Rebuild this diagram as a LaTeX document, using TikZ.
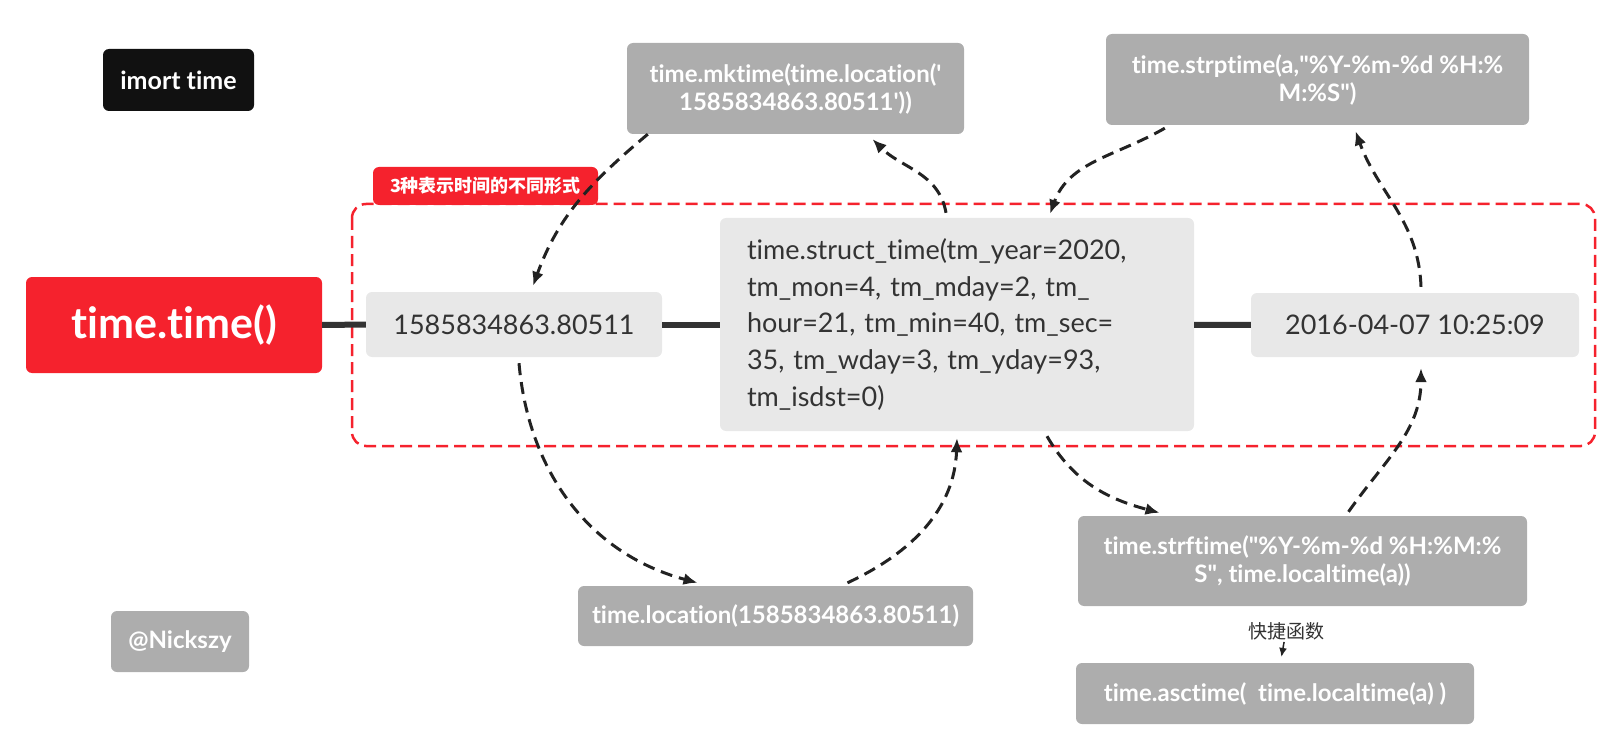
\documentclass[tikz,border=0pt]{standalone}
\usepackage{fontspec}
\setmainfont{Lato}[Ligatures = {TeX, NoCommon}]
\newfontfamily\cjkfont{Noto Sans CJK SC}
\usetikzlibrary{arrows.meta}
\definecolor{tred}{RGB}{245,34,45}
\definecolor{lightfill}{RGB}{232,232,232}
\definecolor{greyfill}{RGB}{173,173,173}
\definecolor{inkdark}{RGB}{51,51,51}
\definecolor{blackfill}{RGB}{17,17,17}
\definecolor{arrowink}{RGB}{34,34,34}
\tikzset{box/.style = {rounded corners = 6pt, inner sep = 0, align = center}}
\tikzset{redbox/.style = {box, fill = tred, text = white,
                          font = \bfseries\fontsize{43}{50}\selectfont}}
\tikzset{formbox/.style = {box, fill = lightfill, text = inkdark,
                           font = \fontsize{27}{36.7}\selectfont}}
\tikzset{funcbox/.style = {box, fill = greyfill, text = white,
                           font = \bfseries\fontsize{24}{28}\selectfont}}
\tikzset{inkbox/.style = {box, fill = blackfill, text = white,
                          font = \bfseries\fontsize{25}{28}\selectfont}}
\tikzset{bar/.style = {draw = inkdark, line width = 6pt}}
\tikzset{conv/.style = {draw = arrowink, line width = 3pt, dash pattern = on 12pt off 7pt,
                        -{Latex[length = 14pt, width = 12pt]}}}
\newcommand{\dq}{\textquotedbl}

\begin{document}
\begin{tikzpicture}[x = 1pt, y = 1pt]
      \useasboundingbox (0, 0) rectangle (1617, -738);

      % group frame and its label
      \node [box, fill = tred, text = white, minimum width = 225, minimum height = 38,
             font = \cjkfont\bfseries\fontsize{18}{20}\selectfont] (grouptag) at (485.5, -186) {3种表示时间的不同形式};
      \draw [tred, line width = 2.5pt, dash pattern = on 12pt off 6pt, rounded corners = 14pt]
            (352, -204) rectangle (1595, -446);

      \node [inkbox, minimum width = 151, minimum height = 62] (importtime) at (178.5, -80) {imort time};
      \node [funcbox, minimum width = 138, minimum height = 61] (author) at (180, -641.5) {@Nickszy};

      % the three forms
      \node [redbox, minimum width = 296, minimum height = 96] (ttime) at (174, -325) {time.time()};
      \node [formbox, minimum width = 296, minimum height = 65] (stamp) at (514, -324.5) {1585834863.80511};
      \node [formbox, minimum height = 213, text width = 420, inner xsep = 27, align = left] (struct) at (957, -324.5)
            {time.struct\_time(tm\_year=2020,\\ tm\_mon=4, tm\_mday=2, tm\_\\ hour=21, tm\_min=40, tm\_sec=\\ 35, tm\_wday=3, tm\_yday=93,\\ tm\_isdst=0)};
      \node [formbox, minimum width = 328, minimum height = 64] (datestr) at (1415, -325) {2016-04-07 10:25:09};

      \draw [bar] (ttime) -- (stamp);
      \draw [bar] (stamp) -- (struct);
      \draw [bar] (struct) -- (datestr);

      % conversion functions
      \node [funcbox, minimum width = 337, minimum height = 91] (mktime) at (795.5, -88.5)
            {time.mktime(time.location(\textquotesingle\\ 1585834863.80511\textquotesingle))};
      \node [funcbox, minimum width = 423, minimum height = 91] (strptime) at (1317.5, -79.5)
            {time.strptime(a,\dq\%Y-\%m-\%d \%H:\%\\ M:\%S\dq)};
      \node [funcbox, minimum width = 395, minimum height = 60] (location) at (775.5, -616)
            {time.location(1585834863.80511)};
      \node [funcbox, minimum width = 449, minimum height = 90] (strftime) at (1302.5, -561)
            {time.strftime(\dq\%Y-\%m-\%d \%H:\%M:\%\\ S\dq, time.localtime(a))};
      \node [funcbox, minimum width = 398, minimum height = 61] (asctime) at (1275, -693.5)
            {time.asctime(\ \ time.localtime(a) )};
      \node [text = inkdark, inner sep = 0, font = \cjkfont\fontsize{19}{21}\selectfont] (shortcut) at (1286, -631) {快捷函数};

      \draw [conv] ([xshift = 21pt]mktime.south west) to [out = 220, in = 70] ([xshift = 19pt, yshift = 6pt]stamp.north);
      \draw [conv] ([xshift = -11pt, yshift = 5pt]struct.north) to [out = 100, in = -45] ([xshift = 77pt, yshift = -5pt]mktime.south);
      \draw [conv] ([xshift = 59pt, yshift = -3pt]strptime.south west) to [out = 210, in = 70] ([xshift = 93pt, yshift = 4pt]struct.north);
      \draw [conv] ([xshift = 6pt, yshift = 6pt]datestr.north) to [out = 92, in = -70] ([xshift = 38pt, yshift = -6pt]strptime.south);
      \draw [conv] ([xshift = 5pt, yshift = -6pt]stamp.south) to [out = -85, in = 165] ([xshift = -78pt, yshift = 3pt]location.north);
      \draw [conv] ([xshift = 72pt, yshift = 3pt]location.north) to [out = 25, in = -92] ([yshift = -7pt]struct.south);
      \draw [conv] ([xshift = 90pt, yshift = -5pt]struct.south) to [out = -60, in = 165] ([xshift = -143pt, yshift = 3pt]strftime.north);
      \draw [conv] ([xshift = 46pt, yshift = 4pt]strftime.north) to [out = 55, in = -90] ([xshift = 6pt, yshift = -11pt]datestr.south);
      \draw [draw = arrowink, line width = 1.5pt, -{Latex[length = 9pt, width = 8pt]}, shorten < = 2pt, shorten > = 6pt]
            (shortcut) -- (asctime);
\end{tikzpicture}
\end{document}
